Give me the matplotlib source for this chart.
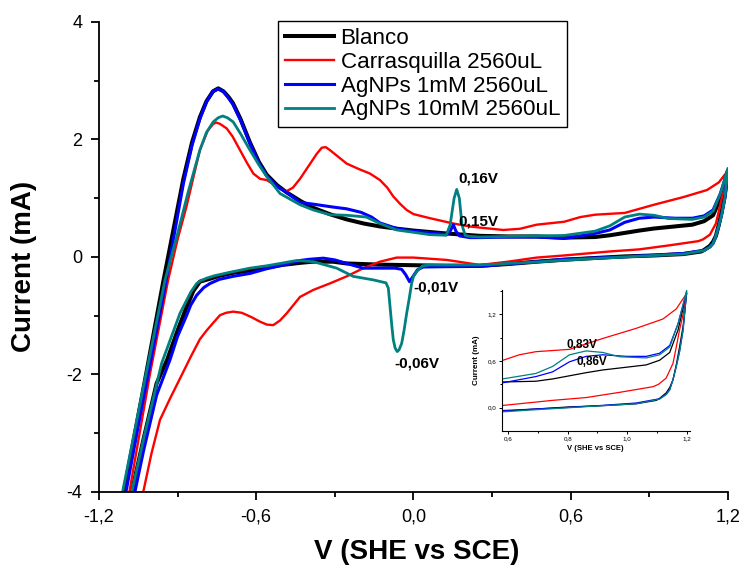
import numpy as np
import matplotlib
matplotlib.use('Agg')
import matplotlib.pyplot as plt
from matplotlib.ticker import MultipleLocator, FuncFormatter

plt.rcParams['font.family'] = ['Liberation Sans', 'DejaVu Sans']
plt.rcParams['axes.unicode_minus'] = False

# ---------------- data (V vs SCE, current in mA) ----------------
# each loop: anodic branch (bottom-left -> 1.2 V) then cathodic branch (1.2 V -> bottom)

# Blanco
blanco_v = [-1.118, -1.105, -1.03, -0.956, -0.91, -0.878, -0.845, -0.815, -0.79, -0.765,
            -0.745, -0.725, -0.705, -0.689, -0.66, -0.624, -0.59, -0.56, -0.52, -0.484,
            -0.43, -0.384, -0.32, -0.255, -0.19, -0.128, -0.06, 0.0, 0.127, 0.254,
            0.36, 0.47, 0.575, 0.693, 0.75, 0.806, 0.862, 0.918, 0.997, 1.064,
            1.109, 1.143, 1.171, 1.2,
            1.188, 1.176, 1.165, 1.154, 1.143, 1.131, 1.109, 1.098, 1.03, 0.918,
            0.806, 0.693, 0.575, 0.47, 0.36, 0.254, 0.127, 0.0, -0.128, -0.255,
            -0.307, -0.384, -0.433, -0.509, -0.56, -0.624, -0.689, -0.74, -0.776, -0.815,
            -0.84, -0.87, -0.90, -0.94, -0.98, -1.03, -1.075, -1.09]
blanco_i = [-4.3, -4.0, -2.23, -0.45, 0.6, 1.33, 1.95, 2.38, 2.65, 2.82,
            2.87, 2.82, 2.72, 2.62, 2.35, 1.95, 1.62, 1.40, 1.22, 1.10,
            0.95, 0.84, 0.73, 0.64, 0.57, 0.52, 0.48, 0.45, 0.40, 0.36,
            0.35, 0.35, 0.33, 0.34, 0.37, 0.41, 0.45, 0.485, 0.52, 0.55,
            0.61, 0.71, 1.0, 1.47,
            1.05, 0.78, 0.55, 0.36, 0.26, 0.19, 0.12, 0.094, 0.05, 0.026,
            0.01, -0.017, -0.047, -0.08, -0.12, -0.15, -0.15, -0.14, -0.13, -0.11,
            -0.08, -0.08, -0.10, -0.14, -0.18, -0.23, -0.27, -0.32, -0.37, -0.42,
            -0.58, -0.90, -1.25, -1.75, -2.15, -3.1, -4.0, -4.3]

# Carrasquilla 2560uL
carr_v = [-1.097, -1.084, -1.005, -0.936, -0.90, -0.866, -0.84, -0.815, -0.785, -0.765,
          -0.754, -0.74, -0.713, -0.69, -0.662, -0.635, -0.611, -0.585, -0.56, -0.535,
          -0.509, -0.484, -0.46, -0.433, -0.40, -0.37, -0.35, -0.335, -0.319, -0.28,
          -0.255, -0.21, -0.166, -0.128, -0.10, -0.077, -0.05, -0.026, 0.0, 0.063,
          0.152, 0.215, 0.254, 0.343, 0.406, 0.47, 0.575, 0.637, 0.693, 0.806,
          0.918, 1.03, 1.12, 1.165, 1.2,
          1.188, 1.176, 1.165, 1.154, 1.131, 1.105, 1.087, 0.979, 0.862, 0.749,
          0.575, 0.47, 0.36, 0.254, 0.127, 0.0, -0.064, -0.128, -0.191, -0.255,
          -0.319, -0.382, -0.433, -0.484, -0.509, -0.535, -0.56, -0.586, -0.62, -0.655,
          -0.688, -0.715, -0.738, -0.76, -0.789, -0.815, -0.85, -0.891, -0.93, -0.967,
          -1.0, -1.031, -1.045]
carr_i = [-4.3, -4.0, -1.98, -0.39, 0.3, 0.86, 1.35, 1.82, 2.15, 2.26,
          2.29, 2.27, 2.19, 2.05, 1.82, 1.60, 1.42, 1.33, 1.31, 1.24,
          1.17, 1.12, 1.18, 1.33, 1.55, 1.75, 1.86, 1.87, 1.82, 1.68,
          1.59, 1.50, 1.42, 1.31, 1.18, 1.03, 0.90, 0.80, 0.73, 0.66,
          0.57, 0.52, 0.50, 0.46, 0.48, 0.55, 0.60, 0.68, 0.72, 0.75,
          0.89, 1.02, 1.14, 1.27, 1.47,
          1.2, 1.0, 0.78, 0.57, 0.38, 0.30, 0.27, 0.20, 0.13, 0.094,
          0.026, -0.01, -0.08, -0.136, -0.05, -0.01, -0.01, -0.08, -0.19, -0.33,
          -0.45, -0.56, -0.68, -0.96, -1.08, -1.16, -1.15, -1.10, -1.02, -0.95,
          -0.93, -0.95, -0.99, -1.10, -1.25, -1.40, -1.70, -2.07, -2.42, -2.77,
          -3.35, -4.0, -4.3]

# AgNPs 1mM 2560uL
ag1_v = [-1.11, -1.097, -1.03, -0.95, -0.91, -0.878, -0.845, -0.815, -0.79, -0.765,
         -0.745, -0.725, -0.705, -0.689, -0.66, -0.624, -0.59, -0.56, -0.52, -0.484,
         -0.433, -0.384, -0.307, -0.255, -0.20, -0.16, -0.128, -0.06, 0.0, 0.09,
         0.127, 0.14, 0.152, 0.162, 0.175, 0.215, 0.254, 0.36, 0.47, 0.575,
         0.693, 0.749, 0.806, 0.862, 0.918, 0.997, 1.064, 1.109, 1.143, 1.171, 1.2,
         1.188, 1.176, 1.165, 1.154, 1.143, 1.131, 1.109, 1.03, 0.918, 0.806,
         0.693, 0.575, 0.47, 0.36, 0.254, 0.127, 0.037, 0.015, 0.0, -0.015,
         -0.03, -0.045, -0.07, -0.128, -0.192, -0.255, -0.30, -0.344, -0.40, -0.433,
         -0.509, -0.56, -0.624, -0.689, -0.74, -0.776, -0.80, -0.827, -0.85, -0.866,
         -0.90, -0.929, -0.98, -1.03, -1.063, -1.08]
ag1_i = [-4.3, -4.0, -2.4, -0.55, 0.45, 1.25, 1.9, 2.35, 2.64, 2.82,
         2.86, 2.82, 2.70, 2.60, 2.33, 1.93, 1.60, 1.38, 1.20, 1.10,
         0.93, 0.90, 0.85, 0.82, 0.76, 0.68, 0.58, 0.48, 0.44, 0.40,
         0.38, 0.44, 0.55, 0.44, 0.36, 0.33, 0.33, 0.34, 0.34, 0.315,
         0.40, 0.46, 0.59, 0.66, 0.68, 0.66, 0.66, 0.70, 0.80, 1.08, 1.49,
         1.0, 0.72, 0.53, 0.36, 0.23, 0.17, 0.115, 0.06, 0.03, 0.004,
         -0.017, -0.038, -0.08, -0.12, -0.16, -0.165, -0.17, -0.22, -0.32, -0.42,
         -0.30, -0.21, -0.19, -0.19, -0.19, -0.11, -0.05, -0.02, -0.04, -0.06,
         -0.15, -0.20, -0.28, -0.33, -0.38, -0.45, -0.52, -0.65, -0.82, -1.0,
         -1.35, -1.75, -2.35, -3.3, -4.0, -4.3]

# AgNPs 10mM 2560uL
ag10_v = [-1.125, -1.11, -1.03, -0.948, -0.90, -0.86, -0.815, -0.79, -0.764, -0.745,
          -0.728, -0.71, -0.688, -0.66, -0.624, -0.59, -0.56, -0.509, -0.433, -0.382,
          -0.319, -0.255, -0.18, -0.128, -0.064, 0.0, 0.063, 0.125, 0.14, 0.155,
          0.165, 0.175, 0.185, 0.197, 0.215, 0.254, 0.36, 0.47, 0.575, 0.693,
          0.749, 0.806, 0.862, 0.918, 0.974, 1.064, 1.109, 1.143, 1.171, 1.2,
          1.188, 1.176, 1.165, 1.154, 1.143, 1.131, 1.109, 1.03, 0.918, 0.806,
          0.693, 0.575, 0.47, 0.36, 0.254, 0.127, 0.063, 0.035, 0.025, 0.012,
          0.0, -0.007, -0.016, -0.026, -0.036, -0.045, -0.055, -0.062, -0.07, -0.077,
          -0.082, -0.087, -0.092, -0.096, -0.105, -0.153, -0.23, -0.293, -0.382, -0.446,
          -0.509, -0.56, -0.624, -0.70, -0.76, -0.789, -0.81, -0.827, -0.85, -0.891,
          -0.961, -1.03, -1.075, -1.09]
ag10_i = [-4.3, -4.0, -2.2, -0.39, 0.4, 1.1, 1.82, 2.12, 2.30, 2.37,
          2.40, 2.37, 2.30, 2.10, 1.82, 1.57, 1.37, 1.08, 0.89, 0.80,
          0.72, 0.71, 0.68, 0.57, 0.46, 0.42, 0.38, 0.37, 0.55, 1.0,
          1.15, 1.0, 0.55, 0.37, 0.35, 0.34, 0.35, 0.36, 0.366, 0.44,
          0.53, 0.68, 0.73, 0.71, 0.655, 0.64, 0.68, 0.78, 1.08, 1.51,
          1.0, 0.72, 0.53, 0.36, 0.23, 0.17, 0.11, 0.05, 0.026, 0.0,
          -0.026, -0.055, -0.085, -0.11, -0.136, -0.136, -0.136, -0.15, -0.19, -0.25,
          -0.33, -0.45, -0.70, -0.96, -1.25, -1.47, -1.58, -1.61, -1.55, -1.41,
          -1.2, -0.96, -0.72, -0.53, -0.44, -0.39, -0.33, -0.19, -0.08, -0.06,
          -0.11, -0.15, -0.19, -0.26, -0.32, -0.36, -0.40, -0.45, -0.6, -0.96,
          -1.81, -3.1, -4.0, -4.3]

labels = ['Blanco', 'Carrasquilla 2560uL', 'AgNPs 1mM 2560uL', 'AgNPs 10mM 2560uL']
colors = ['#000000', '#ff0000', '#0000ff', '#008080']
widths = [2.9, 1.7, 2.2, 2.0]
curves = [(blanco_v, blanco_i), (carr_v, carr_i), (ag1_v, ag1_i), (ag10_v, ag10_i)]

comma = FuncFormatter(lambda v, p: ('%.1f' % v).replace('.', ','))
intfmt = FuncFormatter(lambda v, p: '%d' % round(v))

############################### MAIN AXES ###############################
fig = plt.figure(figsize=(7.43, 5.67), dpi=100)
ax = fig.add_axes([0.1332, 0.1323, 0.8466, 0.8289])

for (v, i), lab, c, w in zip(curves, labels, colors, widths):
    ax.plot(v, i, color=c, lw=w, label=lab, solid_joinstyle='round')

ax.set_xlim(-1.2, 1.2)
ax.set_ylim(-4, 4)
ax.spines['top'].set_visible(False)
ax.spines['right'].set_visible(False)
for s in ['left', 'bottom']:
    ax.spines[s].set_linewidth(1.3)

ax.xaxis.set_major_locator(MultipleLocator(0.6))
ax.xaxis.set_minor_locator(MultipleLocator(0.3))
ax.yaxis.set_major_locator(MultipleLocator(2))
ax.yaxis.set_minor_locator(MultipleLocator(1))
ax.xaxis.set_major_formatter(comma)
ax.yaxis.set_major_formatter(intfmt)
ax.tick_params(which='major', direction='out', length=6, width=1.3, labelsize=13, pad=6)
ax.tick_params(which='minor', direction='out', length=3.5, width=1.3)

ax.set_xlabel('V (SHE vs SCE)', fontsize=20, fontweight='bold')
ax.set_ylabel('Current (mA)', fontsize=20, fontweight='bold')
ax.xaxis.set_label_coords(0.505, -0.100)
ax.yaxis.set_label_coords(-0.099, 0.48)

leg = ax.legend(loc='upper left', bbox_to_anchor=(278 / 743, 1 - 21 / 567),
                bbox_transform=fig.transFigure, fontsize=16.1, frameon=True,
                fancybox=False, edgecolor='black', framealpha=1,
                handlelength=2.2, handletextpad=0.3, borderpad=0.3,
                labelspacing=0.13, borderaxespad=0)
leg.get_frame().set_linewidth(1.0)

# peak labels
ax.text(0.17, 1.33, '0,16V', fontsize=11, fontweight='bold', va='center', ha='left')
ax.text(0.17, 0.60, '0,15V', fontsize=11, fontweight='bold', va='center', ha='left')
ax.text(0.0, -0.52, '-0,01V', fontsize=11, fontweight='bold', va='center', ha='left')
ax.text(-0.072, -1.82, '-0,06V', fontsize=11, fontweight='bold', va='center', ha='left')

############################### INSET ###############################
ins = fig.add_axes([0.6752, 0.2404, 0.2534, 0.2481])
for (v, i), c in zip(curves, colors):
    ins.plot(v, i, color=c, lw=0.9)
ins.set_xlim(0.578, 1.211)
ins.set_ylim(-0.296, 1.513)
ins.spines['top'].set_visible(False)
ins.spines['right'].set_visible(False)
for s in ['left', 'bottom']:
    ins.spines[s].set_linewidth(0.8)
ins.xaxis.set_major_locator(MultipleLocator(0.2))
ins.xaxis.set_minor_locator(MultipleLocator(0.1))
ins.yaxis.set_major_locator(MultipleLocator(0.6))
ins.yaxis.set_minor_locator(MultipleLocator(0.3))
ins.xaxis.set_major_formatter(comma)
ins.yaxis.set_major_formatter(comma)
ins.tick_params(which='major', direction='out', length=2, width=0.7, labelsize=4.5, pad=2)
ins.tick_params(which='minor', direction='out', length=1.2, width=0.7)
ins.set_xlabel('V (SHE vs SCE)', fontsize=5.5, fontweight='bold', labelpad=3)
ins.set_ylabel('Current (mA)', fontsize=5.8, fontweight='bold', labelpad=5)
ins.text(0.795, 0.80, '0,83V', fontsize=8.5, fontweight='bold', va='center', ha='left')
ins.text(0.83, 0.59, '0,86V', fontsize=8.5, fontweight='bold', va='center', ha='left')

fig.savefig('out.png', dpi=100)
